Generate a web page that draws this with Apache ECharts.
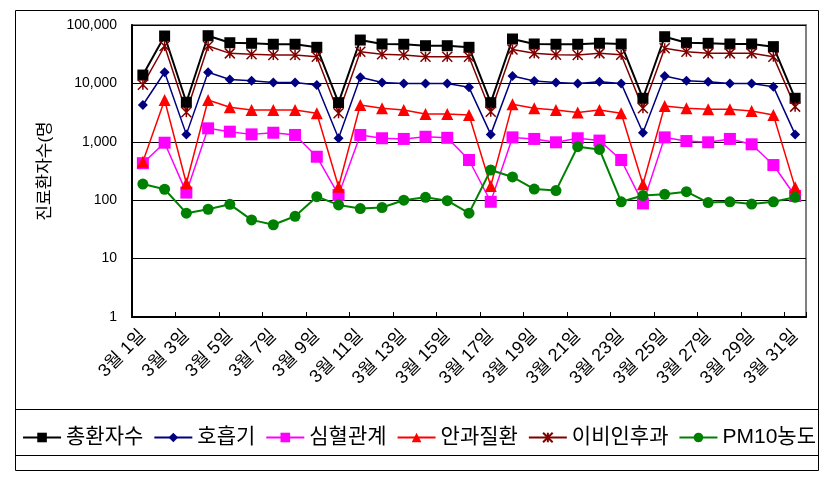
<!DOCTYPE html>
<html>
<head>
<meta charset="utf-8">
<script src="https://cdn.jsdelivr.net/npm/echarts@6/dist/echarts.min.js"></script>
<style>html,body{margin:0;padding:0;background:#fff;}#c{width:838px;height:481px;}</style>
</head>
<body>
<div id="c"></div>
<script>
const categories = ['3월 1일','3월 2일','3월 3일','3월 4일','3월 5일','3월 6일','3월 7일','3월 8일','3월 9일','3월 10일','3월 11일','3월 12일','3월 13일','3월 14일','3월 15일','3월 16일','3월 17일','3월 18일','3월 19일','3월 20일','3월 21일','3월 22일','3월 23일','3월 24일','3월 25일','3월 26일','3월 27일','3월 28일','3월 29일','3월 30일','3월 31일'];
const total  = [13900,64800,4750,65600,49700,48600,46800,46800,41500,4680,55300,47300,46800,44200,44200,41500,4680,57600,47300,46800,46800,48600,47300,5560,63000,49700,48600,47300,47300,42600,5560];
const resp   = [4270,15500,1340,15500,11700,11100,10400,10400,9400,1150,12700,10400,10000,10000,10000,8570,1340,13400,11000,10400,10000,10700,10000,1430,13400,11100,10700,10000,10000,8800,1340];
const cardio = [430,965,135,1700,1490,1340,1430,1310,555,123,1310,1150,1120,1220,1170,488,94,1190,1120,980,1150,1050,488,88,1190,1030,980,1120,906,400,118];
const eye    = [455,5200,195,5200,3900,3500,3500,3500,3080,170,4270,3740,3500,2990,2990,2880,175,4380,3740,3500,3160,3500,3080,187,4100,3740,3600,3600,3370,2880,166];
const ent    = [9500,43700,3200,43700,32700,31500,30600,30600,28700,3080,34800,31500,30600,28700,28700,28700,3280,38100,32700,31000,30600,32700,31000,3740,39900,34800,32700,32700,32700,28700,4000];
const pm10   = [189,154,60,70,85,46,38,53,115,83,72,75,100,112,98,60,329,250,155,146,826,740,94,120,126,140,91,94,86,94,112];
const seriesNames = ['총환자수','호흡기','심혈관계','안과질환','이비인후과','PM10농도'];

const FONT = "'Liberation Sans', 'Noto Sans CJK KR', sans-serif";
const asterisk = 'path://M0,0L10,10M10,0L0,10M5,0L5,10';

function mk(name, data, color, symbol, size, width, extra) {
  return Object.assign({
    name: name, type: 'line', data: data, symbol: symbol, symbolSize: size,
    showSymbol: true, animation: false,
    lineStyle: { color: color, width: width },
    itemStyle: { color: color }
  }, extra || {});
}

const chart = echarts.init(document.getElementById('c'), null, { renderer: 'canvas' });
chart.setOption({
  backgroundColor: '#fff',
  animation: false,
  graphic: [
    { type: 'rect', shape: { x: 15.5, y: 10.5, width: 803, height: 460 }, style: { fill: 'none', stroke: '#000', lineWidth: 1 }, z: -1 },
    { type: 'line', shape: { x1: 15.5, y1: 409.5, x2: 818.5, y2: 409.5 }, style: { stroke: '#000', lineWidth: 1 } },
    { type: 'line', shape: { x1: 15.5, y1: 455.5, x2: 818.5, y2: 455.5 }, style: { stroke: '#000', lineWidth: 1 } }
  ],
  grid: { left: 132, right: 32, top: 25, bottom: 164, show: true, borderColor: '#808080', borderWidth: 2, containLabel: false },
  legend: {
    data: seriesNames, left: 'center', top: 422, itemWidth: 38, itemHeight: 12, itemGap: 10,
    textStyle: { fontFamily: FONT, fontSize: 21, color: '#000', padding: [0,0,0,0] }
  },
  xAxis: {
    type: 'category', data: categories, boundaryGap: true,
    axisLine: { lineStyle: { color: '#000', width: 2 } },
    axisTick: { show: true, inside: true, length: 5, interval: 1, lineStyle: { color: '#000', width: 1 } },
    axisLabel: { interval: 1, rotate: 45, margin: 16, fontFamily: FONT, fontSize: 18, color: '#000' },
    splitLine: { show: false }
  },
  yAxis: {
    type: 'log', logBase: 10, min: 1, max: 100000,
    name: '진료환자수(명', nameLocation: 'middle', nameGap: 78,
    nameTextStyle: { fontFamily: FONT, fontSize: 17, color: '#000' },
    axisLine: { show: true, lineStyle: { color: '#000', width: 2 } },
    axisTick: { show: false },
    axisLabel: { margin: 15, fontFamily: FONT, fontSize: 14, color: '#000',
      formatter: function (v) { return String(Math.round(v)).replace(/\B(?=(\d{3})+(?!\d))/g, ','); } },
    splitLine: { show: true, lineStyle: { color: '#000', width: 1 } },
    minorTick: { show: false }
  },
  series: [
    mk('총환자수', total, '#000000', 'rect', 11, 2),
    mk('호흡기', resp, '#000080', 'diamond', 10, 1.5),
    mk('심혈관계', cardio, '#FF00FF', 'rect', 12, 1.5),
    mk('안과질환', eye, '#FF0000', 'triangle', 12, 1.5),
    mk('이비인후과', ent, '#800000', asterisk, 10, 1.5, { itemStyle: { color: 'none', borderColor: '#800000', borderWidth: 1.5 } }),
    mk('PM10농도', pm10, '#008000', 'circle', 11, 2)
  ]
});
</script>
</body>
</html>
